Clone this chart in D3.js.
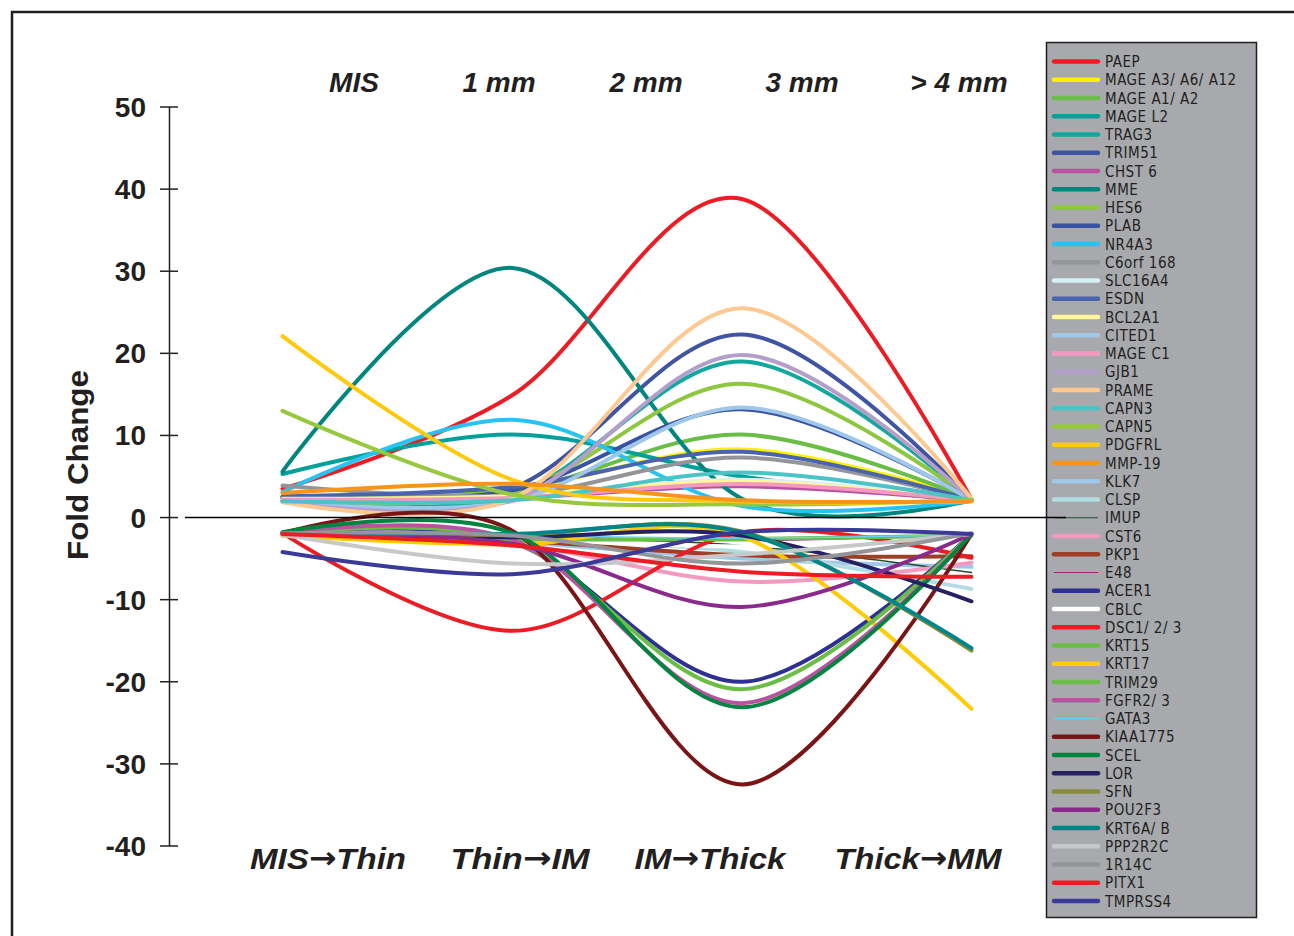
<!DOCTYPE html>
<html>
<head>
<meta charset="utf-8">
<script src="https://cdn.jsdelivr.net/npm/d3@7"></script>
<style>
  html, body { margin: 0; padding: 0; background: #fff; }
  svg { display: block; }
  .lbl { font-family: "Liberation Sans", Arial, sans-serif; fill: #231f20; }
  .legend text { font-family: "Liberation Sans Narrow", "DejaVu Sans Condensed", "Liberation Sans", sans-serif; font-size: 15px; letter-spacing: 0.5px; fill: #231f20; }
</style>
</head>
<body>
<svg id="chart" width="1294" height="936"></svg>
<script>
// Genes in legend order, and fold change at the four points of each curve
const genes = [
  'PAEP', 'MAGE A3/ A6/ A12', 'MAGE A1/ A2', 'MAGE L2', 'TRAG3', 'TRIM51', 'CHST 6', 'MME',
  'HES6', 'PLAB', 'NR4A3', 'C6orf 168', 'SLC16A4', 'ESDN', 'BCL2A1', 'CITED1', 'MAGE C1',
  'GJB1', 'PRAME', 'CAPN3', 'CAPN5', 'PDGFRL', 'MMP-19', 'KLK7', 'CLSP', 'IMUP', 'CST6',
  'PKP1', 'E48', 'ACER1', 'CBLC', 'DSC1/ 2/ 3', 'KRT15', 'KRT17', 'TRIM29', 'FGFR2/ 3',
  'GATA3', 'KIAA1775', 'SCEL', 'LOR', 'SFN', 'POU2F3', 'KRT6A/ B', 'PPP2R2C', '1R14C',
  'PITX1', 'TMPRSS4'
];

const foldChange = [
  [3.5, 14.9, 38.8, 2.2],
  [2.5, 3.5, 8.3, 2.3],
  [2.4, 3.3, 10.1, 2.2],
  [5.3, 10.1, 5.0, 2.1],
  [2.1, 2.7, 19.0, 2.1],
  [2.5, 3.6, 22.3, 2.2],
  [2.2, 2.4, 3.8, 2.1],
  [5.6, 30.4, 2.3, 2.1],
  [2.3, 3.0, 16.3, 2.2],
  [2.4, 3.3, 13.2, 2.2],
  [3.1, 11.9, 1.4, 2.0],
  [3.9, 2.7, 7.3, 2.1],
  [2.1, 2.4, 4.6, 2.1],
  [2.6, 3.7, 8.0, 2.1],
  [2.3, 2.6, 4.4, 2.1],
  [2.0, 2.0, 13.4, 2.1],
  [2.2, 2.4, 4.1, 2.1],
  [1.9, 2.1, 19.8, 2.2],
  [1.9, 2.3, 25.5, 2.3],
  [2.0, 2.1, 5.5, 2.1],
  [13.0, 2.8, 1.6, 2.1],
  [22.1, 4.6, 2.0, 2.0],
  [3.0, 4.1, 2.1, 2.0],
  [-2.2, -3.0, -5.0, -6.0],
  [-2.2, -2.6, -4.2, -8.7],
  [-2.0, -2.4, -3.4, -6.7],
  [-2.0, -3.2, -7.8, -5.5],
  [-2.0, -2.8, -4.6, -4.7],
  [-1.9, -2.2, -2.8, -2.1],
  [-2.0, -3.0, -20.0, -2.0],
  [-2.0, -2.6, -3.5, -2.2],
  [-1.9, -13.8, -1.8, -4.9],
  [-2.0, -2.6, -2.6, -2.2],
  [-2.2, -3.3, -2.3, -23.3],
  [-2.0, -2.9, -20.9, -2.0],
  [-1.9, -2.7, -22.6, -2.0],
  [-2.0, -2.2, -2.5, -2.1],
  [-1.9, -1.6, -32.5, -2.0],
  [-1.8, -1.9, -23.1, -2.0],
  [-2.0, -2.4, -2.2, -10.2],
  [-2.0, -2.1, -1.7, -16.2],
  [-1.9, -3.2, -10.9, -2.0],
  [-2.0, -2.0, -1.8, -15.9],
  [-2.1, -5.6, -4.5, -2.0],
  [-1.9, -2.2, -5.6, -1.9],
  [-2.0, -3.4, -6.6, -7.2],
  [-4.2, -6.9, -1.8, -2.0]
];

const geneColors = [
  '#ed1c24', '#fff200', '#6abd45', '#00a19a', '#13a89e', '#3f54a3', '#b9529f', '#00857f',
  '#8dc63f', '#3953a4', '#27c4f3', '#939598', '#d6f0f7', '#4a63ae', '#fff799', '#9fc7ea',
  '#f49ac1', '#b49fcb', '#fdc990', '#4cc3c6', '#96c93d', '#ffc90e', '#f7941d', '#9fc7ea',
  '#b3dde2', '#1f4f2a', '#f49ac1', '#9e3e25', '#a3227f', '#2e3192', '#ffffff', '#ed1c24',
  '#6abd45', '#ffcb05', '#6abd45', '#b9529f', '#6dcff6', '#7a1416', '#00843f', '#262262',
  '#8a8b3a', '#8b2a8d', '#00858a', '#c7c8ca', '#939598', '#ed1c24', '#3b3a98'
];
const thinGenes = ['IMUP', 'E48', 'GATA3'];

const pointKeys = [0, 1, 2, 3];
const yTicks = [50, 40, 30, 20, 10, 0, -10, -20, -30, -40];
const stageLabels = ['MIS', '1 mm', '2 mm', '3 mm', '> 4 mm'];
const transitionFrom = ['MIS', 'Thin', 'IM', 'Thick'];
const transitionTo = ['Thin', 'IM', 'Thick', 'MM'];

// layout
const stageX = [354, 499, 646, 802, 959];
const transitionX = [328, 520, 710, 918];
const transitionW = [156, 139, 151, 167];

const svg = d3.select('#chart');

// outer frame
svg.append('rect')
  .attr('x', 12).attr('y', 12).attr('width', 1400).attr('height', 1000)
  .attr('fill', 'none').attr('stroke', '#231f20').attr('stroke-width', 2.5);

const x = d3.scalePoint().domain(pointKeys).range([282.5, 971.5]);
const y = d3.scaleLinear().domain([-40, 50]).range([846, 107]);

// y axis
svg.append('line')
  .attr('x1', 169.5).attr('x2', 169.5)
  .attr('y1', y(50)).attr('y2', y(-40))
  .attr('stroke', '#231f20').attr('stroke-width', 1.5);

svg.selectAll('.tick')
  .data(yTicks)
  .join('line')
  .attr('class', 'tick')
  .attr('x1', 160).attr('x2', 178)
  .attr('y1', d => y(d)).attr('y2', d => y(d))
  .attr('stroke', '#231f20').attr('stroke-width', 1.5);

svg.selectAll('.ytext')
  .data(yTicks)
  .join('text')
  .attr('class', 'lbl ytext')
  .attr('x', 146)
  .attr('y', d => y(d) + 10)
  .attr('text-anchor', 'end')
  .style('font-size', '28px').style('font-weight', 'bold')
  .text(d => d);

svg.append('text')
  .attr('class', 'lbl')
  .attr('transform', 'translate(88,465) rotate(-90)')
  .attr('text-anchor', 'middle')
  .attr('textLength', 190).attr('lengthAdjust', 'spacingAndGlyphs')
  .style('font-size', '29px').style('font-weight', 'bold')
  .text('Fold Change');

// stage labels on top
svg.selectAll('.stage')
  .data(stageLabels)
  .join('text')
  .attr('class', 'lbl stage')
  .attr('x', (d, i) => stageX[i])
  .attr('y', 92)
  .attr('text-anchor', 'middle')
  .style('font-size', '28px').style('font-weight', 'bold').style('font-style', 'italic')
  .text(d => d);

// transition labels at the bottom, arrow from a font with a heavier glyph
const trans = svg.selectAll('.trans')
  .data(transitionFrom)
  .join('text')
  .attr('class', 'lbl trans')
  .attr('x', (d, i) => transitionX[i])
  .attr('y', 869)
  .attr('text-anchor', 'middle')
  .attr('textLength', (d, i) => transitionW[i])
  .attr('lengthAdjust', 'spacingAndGlyphs')
  .style('font-size', '30px').style('font-weight', 'bold').style('font-style', 'italic');
trans.append('tspan').text(d => d);
trans.append('tspan')
  .style('font-family', '"DejaVu Sans", sans-serif')
  .style('font-style', 'normal')
  .style('font-size', '30px')
  .attr('dy', -1)
  .text('\u2192');
trans.append('tspan').attr('dy', 1).text((d, i) => transitionTo[i]);

// curves
const line = d3.line()
  .x((d, i) => x(pointKeys[i]))
  .y(d => y(d))
  .curve(d3.curveCardinal.tension(0));

svg.append('g')
  .selectAll('path')
  .data(foldChange)
  .join('path')
  .attr('d', line)
  .attr('fill', 'none')
  .attr('stroke', (d, i) => geneColors[i])
  .attr('stroke-width', (d, i) => thinGenes.includes(genes[i]) ? 1.5 : 4)
  .attr('stroke-linejoin', 'round')
  .attr('stroke-linecap', 'round');

// legend
const legend = svg.append('g').attr('class', 'legend');
legend.append('rect')
  .attr('x', 1046.5).attr('y', 42.5).attr('width', 210).attr('height', 875)
  .attr('fill', '#a7a9ac').attr('stroke', '#231f20').attr('stroke-width', 1.5);

const rowY = d3.scaleLinear().domain([0, genes.length - 1]).range([61.5, 901]);

const rows = legend.selectAll('.row')
  .data(genes)
  .join('g')
  .attr('class', 'row')
  .attr('transform', (d, i) => `translate(0,${rowY(i)})`);

rows.append('line')
  .attr('x1', 1054).attr('x2', 1098)
  .attr('stroke', (d, i) => geneColors[i])
  .attr('stroke-width', d => thinGenes.includes(d) ? 1.2 : 4.5)
  .attr('stroke-linecap', d => thinGenes.includes(d) ? 'butt' : 'round');

rows.append('text')
  .attr('x', 1105)
  .attr('y', 5.5)
  .text(d => d);

// zero line drawn last, it runs into the legend box
svg.append('line')
  .attr('x1', 185).attr('x2', 1066)
  .attr('y1', y(0)).attr('y2', y(0))
  .attr('stroke', '#000').attr('stroke-width', 1.5);
</script>
</body>
</html>
